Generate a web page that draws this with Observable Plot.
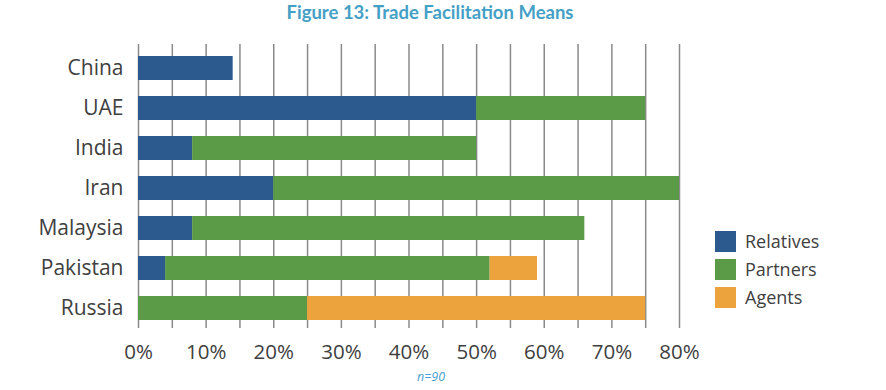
<!DOCTYPE html>
<html><head><meta charset="utf-8">
<script src="https://cdn.jsdelivr.net/npm/d3@7"></script>
<script src="https://cdn.jsdelivr.net/npm/@observablehq/plot@0.6"></script>
<style>
body{margin:0;background:#fff;width:886px;height:390px;position:relative;overflow:hidden;font-family:"Open Sans",sans-serif}
#chart{position:absolute;left:0;top:0}
#title{position:absolute;top:1px;left:0;width:860px;text-align:center;font:bold 18.5px Lato,sans-serif;color:#45a0c6;z-index:2}
#caption{position:absolute;top:368px;left:0;width:862px;text-align:center;font:italic 12.5px "Open Sans",sans-serif;color:#4a9fd0;z-index:2}
#legend{position:absolute;left:715px;top:227px;z-index:2}
.item{display:flex;align-items:center;height:28px}
.sw{width:21px;height:21px;margin-right:9px}
.lab{font:18px "Open Sans",sans-serif;color:#404040}
</style></head>
<body>
<div id="chart"></div>
<div id="title">Figure 13: Trade Facilitation Means</div>
<div id="legend"></div>
<div id="caption">n=90</div>
<script>
const countries = ["China","UAE","India","Iran","Malaysia","Pakistan","Russia"];
const series = ["Relatives","Partners","Agents"];
const colors = ["#2d5a8e","#5b9a47","#eca33d"];
const relatives = [0.14,0.50,0.08,0.20,0.08,0.04,0];
const partners  = [0,0.25,0.42,0.60,0.58,0.48,0.25];
const agents    = [0,0,0,0,0,0.07,0.50];
const xTicks = [0,0.1,0.2,0.3,0.4,0.5,0.6,0.7,0.8];
const gridTicks = [0,0.05,0.1,0.15,0.2,0.25,0.3,0.35,0.4,0.45,0.5,0.55,0.6,0.65,0.7,0.75,0.8];

const valuesBySeries = [relatives, partners, agents];
const rows = [];
countries.forEach((c,i)=>series.forEach((s,j)=>{
  if (valuesBySeries[j][i] > 0) rows.push({country:c, series:s, value:valuesBySeries[j][i]});
}));

const fmt = d => Math.round(d*100) + "%";
const plot = Plot.plot({
  width: 886, height: 390,
  marginLeft: 138, marginRight: 207, marginTop: 48, marginBottom: 62,
  style: {fontFamily: "'Open Sans', sans-serif", background: "transparent"},
  x: {domain: [0, 0.8]},
  y: {domain: countries, paddingInner: 0.4, paddingOuter: 0.2},
  color: {domain: series, range: colors},
  marks: [
    Plot.gridX(gridTicks, {stroke: "#8a8a8a", strokeOpacity: 1, strokeWidth: 1.5, insetTop: -4}),
    Plot.barX(rows, Plot.stackX({x: "value", y: "country", fill: "series", order: series})),
    Plot.axisX(xTicks, {tickSize: 0, tickPadding: 16, fontSize: 20.5, fill: "#404040", tickFormat: fmt, label: null}),
    Plot.axisY({tickSize: 0, tickPadding: 15, fontSize: 21, fill: "#404040", label: null})
  ]
});
document.getElementById("chart").appendChild(plot);

const legend = document.getElementById("legend");
series.forEach((s,j)=>{
  const it = document.createElement("div"); it.className = "item";
  const sw = document.createElement("div"); sw.className = "sw"; sw.style.background = colors[j];
  const lb = document.createElement("span"); lb.className = "lab"; lb.textContent = s;
  it.appendChild(sw); it.appendChild(lb); legend.appendChild(it);
});
</script>
</body></html>
